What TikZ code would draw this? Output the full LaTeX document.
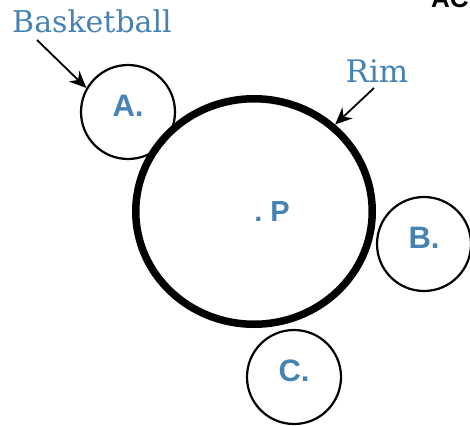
\documentclass[tikz,border=0pt]{standalone}
\usepackage{fontspec}
\usepackage{xcolor}
\newfontfamily\tagfont{DejaVu Serif}
\newfontfamily\letterfont{Liberation Sans}
\definecolor{labelblue}{RGB}{70, 130, 180}
\usetikzlibrary{arrows.meta, positioning, shapes.geometric}

\begin{document}
\begin{tikzpicture}[x=1pt, y=-1pt,
    ball/.style={circle, draw, line width=2.2pt, minimum size=94pt, inner sep=0pt,
      text=labelblue, font=\letterfont\bfseries\fontsize{31}{31}\selectfont, text depth=12pt},
    tag/.style={text=labelblue, inner sep=0pt},
    pointer/.style={-{Stealth[length=17pt, width=15pt]}, line width=1.8pt}]
    \useasboundingbox (0,0) rectangle (470,425);
    % === Rim ===
    \node (rim) [ellipse, draw, line width=7.5pt, minimum width=236.5pt, minimum height=225.5pt] at (254,211.5) {};
    \node (ptP) [text=labelblue, font=\letterfont\bfseries\fontsize{29}{29}\selectfont] at (272,212) {.~P};
    % === Balls ===
    \node (ballA) [ball] at (128,112) {A.};
    \node (ballB) [ball] at (424,244) {B.};
    \node (ballC) [ball] at (294,377) {C.};
    % === Labels ===
    \node (bball) [tag, anchor=base, font=\tagfont\fontsize{30}{30}\selectfont] at (92,33) {Basketball};
    \node (rimtag) [tag, anchor=base, font=\tagfont\fontsize{31}{31}\selectfont] at (377,82) {Rim};
    \coordinate (bbtail) at (37,40);
    \coordinate (rimtail) at (374,88);
    \draw[pointer] (bbtail) -- (ballA.150);
    \draw[pointer] (rimtail) -- (rim.47);
    % cut-off heading
    \node (head) [anchor=base west, inner sep=0pt, font=\letterfont\bfseries\fontsize{26}{26}\selectfont] at (431,8) {AC};
\end{tikzpicture}
\end{document}
